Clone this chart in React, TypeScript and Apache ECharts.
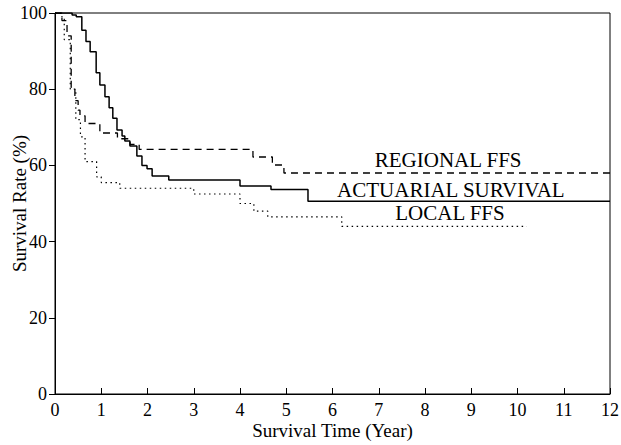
import React, { useEffect, useRef } from "react";
import * as echarts from "echarts";

// Actuarial survival (solid)
const survTimes = [0, 0.37, 0.46, 0.58, 0.67, 0.76, 0.89, 0.97, 1.08, 1.17, 1.25, 1.34, 1.45, 1.51, 1.62, 1.77, 1.88, 1.99, 2.1, 2.46, 4.0, 4.67, 5.47, 12];
const survValues = [100, 99.5, 99, 95.5, 92.5, 89.8, 84.3, 81.1, 78, 75.1, 72.4, 69.3, 67.7, 66.4, 65.1, 62.5, 60, 59.1, 57.2, 56.2, 54.6, 53.7, 50.6, 50.6];

// Regional FFS (dashed)
const regTimes = [0, 0.15, 0.26, 0.35, 0.43, 0.5, 0.54, 0.65, 0.97, 1.35, 1.62, 1.82, 4.28, 4.7, 4.95, 12];
const regValues = [100, 98, 94, 80.5, 77, 74.5, 73, 71, 68.5, 67, 65.5, 64.2, 62.2, 60.1, 58, 58];

// Local FFS (dotted)
const locTimes = [0, 0.12, 0.2, 0.33, 0.45, 0.55, 0.65, 0.9, 1.0, 1.4, 3.0, 4.0, 4.3, 4.6, 6.2, 10.2];
const locValues = [100, 99, 93, 80, 72, 67.5, 61, 57, 55.5, 54, 52.5, 50, 48, 46.5, 44, 44];

// Curve labels (data coordinates)
const labelTexts = ["REGIONAL FFS", "ACTUARIAL SURVIVAL", "LOCAL FFS"];
const labelX = [8.5, 8.56, 8.54];
const labelY = [61.4, 53.5, 47.4];

const xTicks = { min: 0, max: 12, interval: 1 };
const yTicks = { min: 0, max: 100, interval: 20 };

const FONT = "'Liberation Serif', 'DejaVu Serif', serif";

function pairs(t: number[], v: number[]) {
  return t.map((x, i) => [x, v[i]]);
}

export default function App() {
  const ref = useRef<HTMLDivElement>(null);
  useEffect(() => {
    if (!ref.current) return;
    const chart = echarts.init(ref.current, undefined, { renderer: "svg" });
    const lineBase = { type: "line" as const, step: "end" as const, symbol: "none", silent: true };
    chart.setOption({
      animation: false,
      backgroundColor: "#ffffff",
      textStyle: { fontFamily: FONT, color: "#000" },
      grid: {
        left: 55,
        right: 11,
        top: 13,
        bottom: 51,
        show: true,
        borderColor: "#000",
        borderWidth: 1,
        containLabel: false,
        outerBoundsMode: "none",
      },
      xAxis: {
        type: "value",
        min: xTicks.min,
        max: xTicks.max,
        interval: xTicks.interval,
        name: "Survival Time (Year)",
        nameLocation: "middle",
        nameGap: 27,
        nameMoveOverlap: false,
        nameTextStyle: { fontFamily: FONT, fontSize: 19, color: "#000" },
        axisLine: { lineStyle: { color: "#000", width: 1 } },
        axisTick: { inside: true, length: 6, lineStyle: { color: "#000" } },
        axisLabel: { fontFamily: FONT, fontSize: 18, color: "#000", margin: 7 },
        splitLine: { show: false },
      },
      yAxis: {
        type: "value",
        min: yTicks.min,
        max: yTicks.max,
        interval: yTicks.interval,
        name: "Survival Rate (%)",
        nameLocation: "middle",
        nameGap: 26,
        nameRotate: 90,
        nameMoveOverlap: false,
        nameTextStyle: { fontFamily: FONT, fontSize: 19, color: "#000" },
        axisLine: { show: true, lineStyle: { color: "#000", width: 1 } },
        axisTick: { show: true, inside: false, length: 6, lineStyle: { color: "#000" } },
        axisLabel: { fontFamily: FONT, fontSize: 18, color: "#000", margin: 8 },
        splitLine: { show: false },
      },
      series: [
        {
          ...lineBase,
          name: "ACTUARIAL SURVIVAL",
          data: pairs(survTimes, survValues),
          lineStyle: { color: "#000", width: 1.5, type: "solid" },
          markPoint: {
            symbol: "circle",
            symbolSize: 0,
            silent: true,
            label: {
              show: true,
              position: "inside",
              fontFamily: FONT,
              fontSize: 21,
              lineHeight: 20,
              color: "#000",
            },
            data: labelTexts.map((t, i) => ({
              coord: [labelX[i], labelY[i]],
              value: t,
              label: { formatter: t },
            })),
          },
        },
        {
          ...lineBase,
          name: "REGIONAL FFS",
          data: pairs(regTimes, regValues),
          lineStyle: { color: "#000", width: 1.3, type: [7, 5] },
        },
        {
          ...lineBase,
          name: "LOCAL FFS",
          data: pairs(locTimes, locValues),
          lineStyle: { color: "#000", width: 1.2, type: [1.5, 3.5] },
        },
      ],
    });
    return () => chart.dispose();
  }, []);
  return (
    <div
      ref={ref}
      style={{ position: "fixed", left: 0, top: 0, width: 621, height: 445 }}
    />
  );
}
